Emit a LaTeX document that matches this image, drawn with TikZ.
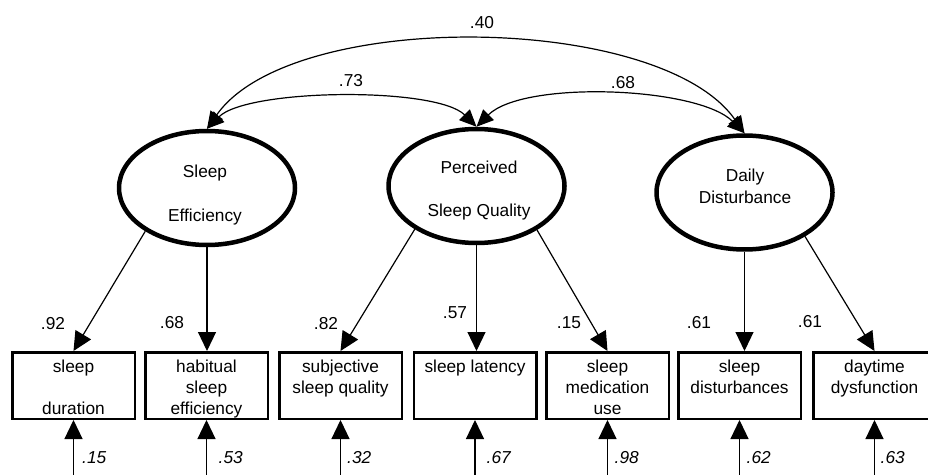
\documentclass[tikz,border=0pt]{standalone}
\usepackage{fontspec}
\setmainfont{Liberation Sans}
\usetikzlibrary{arrows.meta,shapes.geometric}
\newcommand\obstext[1]{\parbox[c][66.5pt][t]{122.5pt}{\centering\rule{0pt}{19.75pt}#1}}
\tikzset{
  latent/.style={ellipse, draw, line width=4.5pt, minimum width=176pt, minimum height=114pt, inner sep=0pt},
  obs/.style={rectangle, draw, line width=2.5pt, inner sep=0pt},
  txt/.style={font=\fontsize{17.3}{21}\selectfont, inner sep=0pt},
  coef/.style={font=\fontsize{17.3}{21}\selectfont, inner sep=0pt},
  err/.style={font=\fontsize{17.3}{21}\selectfont\itshape, inner sep=0pt, anchor=west},
  load/.style={line width=1.2pt, -{Triangle[length=19pt,width=18pt]}},
  cov/.style={line width=1.2pt, {Triangle[length=17pt,width=15pt]}-{Triangle[length=17pt,width=15pt]}},
}
\begin{document}
\begin{tikzpicture}[x=1pt,y=1pt]
\useasboundingbox (0,0) rectangle (928,474);
\clip (0,0) rectangle (928,474);
% latent variables
\node[latent] (se) at (207,286) {};
\node[latent] (psq) at (476.5,288) {};
\node[latent] (dd) at (744.5,281.5) {};
\node[txt,anchor=base] (se1) at (205,296) {Sleep};
\node[txt,anchor=base] (se2) at (205,252) {Efficiency};
\node[txt,anchor=base] (psq1) at (479,300) {Perceived};
\node[txt,anchor=base] (psq2) at (479,257) {Sleep Quality};
\node[txt,anchor=base] (dd1) at (745,292) {Daily};
\node[txt,anchor=base] (dd2) at (745,270) {Disturbance};
% observed variables
\node[obs,txt] (b1) at (73.5,88.5) {\obstext{sleep\\[21pt]duration}};
\node[obs,txt] (b2) at (206.5,88.5) {\obstext{habitual\\sleep\\efficiency}};
\node[obs,txt] (b3) at (340.5,88.5) {\obstext{subjective\\sleep quality}};
\node[obs,txt] (b4) at (475,88.5) {\obstext{sleep latency}};
\node[obs,txt] (b5) at (607.5,88.5) {\obstext{sleep\\medication\\use}};
\node[obs,txt] (b6) at (739.5,88.5) {\obstext{sleep\\disturbances}};
\node[obs,txt] (b7) at (874.5,88.5) {\obstext{daytime\\dysfunction}};
% loadings
\draw[load] (se.215) -- (b1.north);
\draw[load] (se.south) -- (se.south |- b2.north);
\draw[load] (psq.215) -- (b3.north);
\draw[load] (psq.south) -- (psq.south |- b4.north);
\draw[load] (psq.324) -- (b5.north);
\draw[load] (dd.south) -- (dd.south |- b6.north);
\draw[load] (dd.324) -- (b7.north);
\node[coef] (l1) at (53,150) {.92};
\node[coef] (l2) at (172,151) {.68};
\node[coef] (l3) at (326,150) {.82};
\node[coef] (l4) at (455,161) {.57};
\node[coef] (l5) at (569,151) {.15};
\node[coef] (l6) at (699,151) {.61};
\node[coef] (l7) at (810,152) {.61};
% covariances
\draw[cov] (se.north) to[out=45,in=135,looseness=0.54] (psq.north);
\draw[cov] (se.north) to[out=55,in=125,looseness=0.7] (dd.north);
\draw[cov] (psq.north) to[out=45,in=135,looseness=0.63] (dd.north);
\node[coef] (c1) at (482,451) {.40};
\node[coef] (c2) at (351,393) {.73};
\node[coef] (c3) at (623,391) {.68};
% errors
\foreach \i in {1,...,7} { \coordinate (e\i) at ([yshift=-90pt]b\i.south); }
\foreach \i in {1,...,7} { \draw[load] (e\i) -- (b\i.south); }
\node[err] (r1) at (82,16) {.15};
\node[err] (r2) at (218.5,16) {.53};
\node[err] (r3) at (347,16) {.32};
\node[err] (r4) at (486.5,16) {.67};
\node[err] (r5) at (614.5,16) {.98};
\node[err] (r6) at (746.5,16) {.62};
\node[err] (r7) at (880.5,16) {.63};
\end{tikzpicture}
\end{document}
